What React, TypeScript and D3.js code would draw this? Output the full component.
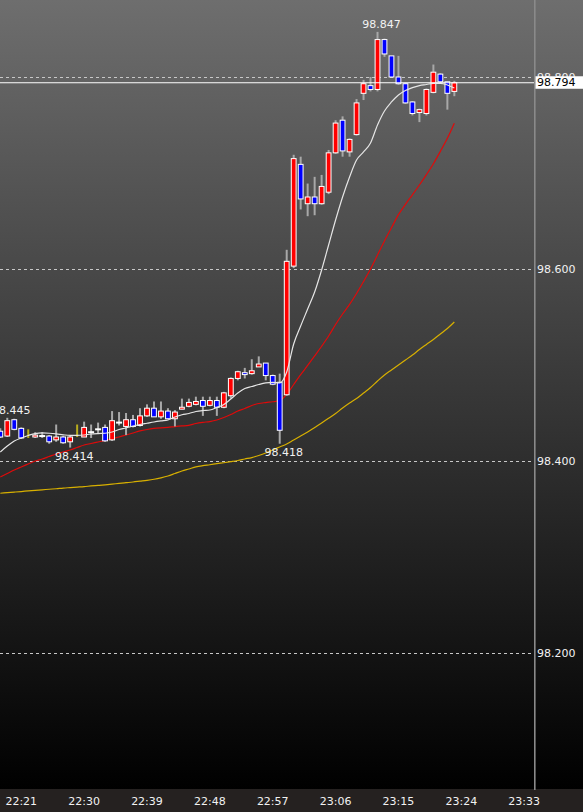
import React from "react";
import * as d3 from "d3";

const W = 583;
const H = 812;

const times = [
  "22:18","22:19","22:20","22:21","22:22","22:23","22:24","22:25","22:26","22:27",
  "22:28","22:29","22:30","22:31","22:32","22:33","22:34","22:35","22:36","22:37",
  "22:38","22:39","22:40","22:41","22:42","22:43","22:44","22:45","22:46","22:47",
  "22:48","22:49","22:50","22:51","22:52","22:53","22:54","22:55","22:56","22:57",
  "22:58","22:59","23:00","23:01","23:02","23:03","23:04","23:05","23:06","23:07",
  "23:08","23:09","23:10","23:11","23:12","23:13","23:14","23:15","23:16","23:17",
  "23:18","23:19","23:20","23:21","23:22","23:23",
];

const opens = [
  98.431, 98.426, 98.443, 98.434, 98.424, 98.425, 98.426, 98.426, 98.422, 98.425,
  98.420, 98.425, 98.425, 98.430, 98.433, 98.435, 98.422, 98.440, 98.436, 98.443,
  98.437, 98.447, 98.455, 98.446, 98.452, 98.444, 98.454, 98.457, 98.459, 98.463,
  98.458, 98.463, 98.456, 98.468, 98.486, 98.492, 98.491, 98.498, 98.502, 98.489,
  98.482, 98.469, 98.603, 98.709, 98.668, 98.675, 98.668, 98.680, 98.721, 98.755,
  98.722, 98.740, 98.783, 98.791, 98.787, 98.839, 98.822, 98.800, 98.793, 98.774,
  98.763, 98.762, 98.784, 98.803, 98.795, 98.785,
];
const highs = [
  98.434, 98.445, 98.444, 98.435, 98.433, 98.430, 98.430, 98.427, 98.438, 98.426,
  98.426, 98.438, 98.441, 98.438, 98.440, 98.438, 98.452, 98.451, 98.450, 98.448,
  98.455, 98.459, 98.462, 98.462, 98.455, 98.453, 98.465, 98.465, 98.467, 98.467,
  98.467, 98.467, 98.472, 98.487, 98.494, 98.497, 98.506, 98.509, 98.502, 98.490,
  98.491, 98.620, 98.719, 98.717, 98.689, 98.696, 98.698, 98.724, 98.755, 98.759,
  98.736, 98.777, 98.797, 98.800, 98.847, 98.840, 98.822, 98.822, 98.794, 98.775,
  98.767, 98.788, 98.813, 98.804, 98.795, 98.796,
];
const lows = [
  98.424, 98.425, 98.432, 98.423, 98.424, 98.424, 98.424, 98.418, 98.420, 98.418,
  98.414, 98.425, 98.425, 98.424, 98.429, 98.420, 98.421, 98.437, 98.427, 98.435,
  98.436, 98.446, 98.446, 98.444, 98.444, 98.436, 98.454, 98.456, 98.458, 98.447,
  98.457, 98.447, 98.455, 98.465, 98.484, 98.486, 98.490, 98.498, 98.484, 98.479,
  98.418, 98.468, 98.601, 98.662, 98.655, 98.656, 98.667, 98.678, 98.720, 98.717,
  98.717, 98.739, 98.776, 98.785, 98.785, 98.821, 98.800, 98.792, 98.772, 98.760,
  98.753, 98.760, 98.783, 98.793, 98.766, 98.780,
];
const closes = [
  98.425, 98.442, 98.433, 98.424, 98.424, 98.427, 98.426, 98.420, 98.425, 98.419,
  98.425, 98.425, 98.435, 98.430, 98.433, 98.421, 98.442, 98.440, 98.443, 98.436,
  98.447, 98.455, 98.446, 98.452, 98.444, 98.451, 98.456, 98.461, 98.462, 98.457,
  98.463, 98.456, 98.471, 98.486, 98.493, 98.490, 98.494, 98.501, 98.489, 98.480,
  98.432, 98.608, 98.715, 98.673, 98.675, 98.668, 98.686, 98.721, 98.752, 98.723,
  98.735, 98.773, 98.793, 98.787, 98.839, 98.824, 98.800, 98.793, 98.773, 98.762,
  98.766, 98.787, 98.805, 98.795, 98.783, 98.794,
];

// moving averages (white / red / yellow)
const maFast = [
  98.4094, 98.4156, 98.4208, 98.4240, 98.4266, 98.4286, 98.4292, 98.4289, 98.4283, 98.4273,
  98.4266, 98.4266, 98.4271, 98.4281, 98.4286, 98.4289, 98.4302, 98.4328, 98.4344, 98.4365,
  98.4380, 98.4393, 98.4406, 98.4417, 98.4427, 98.4458, 98.4482, 98.4495, 98.4516, 98.4526,
  98.4531, 98.4557, 98.4589, 98.4646, 98.4708, 98.4755, 98.4776, 98.4797, 98.4813, 98.4818,
  98.4813, 98.4927, 98.5219, 98.5406, 98.5583, 98.5760, 98.5990, 98.6250, 98.6510, 98.6750,
  98.6958, 98.7135, 98.7219, 98.7313, 98.7500, 98.7646, 98.7740, 98.7813, 98.7859, 98.7890,
  98.7911, 98.7922, 98.7934, 98.7934, 98.7917, 98.7885,
];
const maMid = [
  98.3833, 98.3870, 98.3906, 98.3938, 98.3969, 98.4000, 98.4021, 98.4047, 98.4073, 98.4094,
  98.4115, 98.4141, 98.4167, 98.4182, 98.4198, 98.4214, 98.4234, 98.4250, 98.4271, 98.4292,
  98.4313, 98.4328, 98.4339, 98.4346, 98.4351, 98.4359, 98.4365, 98.4372, 98.4391, 98.4403,
  98.4411, 98.4427, 98.4453, 98.4484, 98.4521, 98.4547, 98.4578, 98.4599, 98.4609, 98.4617,
  98.4630, 98.4693, 98.4797, 98.4900, 98.4995, 98.5094, 98.5195, 98.5302, 98.5422, 98.5531,
  98.5631, 98.5745, 98.5869, 98.6000, 98.6146, 98.6292, 98.6430, 98.6566, 98.6674, 98.6773,
  98.6875, 98.6983, 98.7097, 98.7225, 98.7361, 98.7519,
];
const maSlow = [
  98.3664, 98.3670, 98.3676, 98.3682, 98.3689, 98.3695, 98.3700, 98.3706, 98.3711, 98.3718,
  98.3723, 98.3728, 98.3733, 98.3740, 98.3746, 98.3752, 98.3759, 98.3767, 98.3774, 98.3781,
  98.3790, 98.3799, 98.3810, 98.3825, 98.3844, 98.3870, 98.3896, 98.3917, 98.3938, 98.3951,
  98.3961, 98.3972, 98.3982, 98.3993, 98.4005, 98.4021, 98.4036, 98.4057, 98.4083, 98.4115,
  98.4146, 98.4177, 98.4219, 98.4260, 98.4302, 98.4349, 98.4396, 98.4445, 98.4495, 98.4552,
  98.4604, 98.4651, 98.4708, 98.4766, 98.4833, 98.4896, 98.4948, 98.5000, 98.5052, 98.5104,
  98.5161, 98.5214, 98.5266, 98.5323, 98.5380, 98.5448,
];

const timeTicks = ["22:21", "22:30", "22:39", "22:48", "22:57", "23:06", "23:15", "23:24", "23:33"];
const priceTicks = [98.2, 98.4, 98.6, 98.8];
const lastPrice = 98.794;
const highLabelIdx = [1, 54];
const lowLabelIdx = [10, 40];

const parse = d3.timeParse("%H:%M");
const FONT = "'DejaVu Sans', Verdana, sans-serif";

export default function App() {
  const plotRight = 534.5;
  const x = d3
    .scaleTime()
    .domain([parse("22:18") as Date, parse("23:33") as Date])
    .range([0.3, 524.2]);
  const y = d3.scaleLinear().domain([98.2, 98.8]).range([653, 77]);

  const mkLine = (vals: number[]) =>
    d3
      .line<number>()
      .x((_, i) => x(parse(times[i]) as Date))
      .y((v) => y(v))
      .curve(d3.curveMonotoneX)(vals) as string;

  const fmt = d3.format(".3f");

  return (
    <div style={{ width: W, height: H, position: "fixed", left: 0, top: 0, overflow: "hidden" }}>
      <style>{"body{margin:0;background:#000}"}</style>
      <svg width={W} height={H} style={{ display: "block" }} fontFamily={FONT}>
        <defs>
          <linearGradient id="bg" x1="0" y1="0" x2="0" y2="790" gradientUnits="userSpaceOnUse">
            <stop offset="0" stopColor="#6e6e6e" />
            <stop offset="1" stopColor="#000000" />
          </linearGradient>
          <clipPath id="plot">
            <rect x={0} y={0} width={plotRight} height={790} />
          </clipPath>
        </defs>
        <rect x={0} y={0} width={W} height={790} fill="url(#bg)" />
        <rect x={0} y={789} width={W} height={H - 789} fill="#252120" />

        {/* grid */}
        {priceTicks.map((p) => (
          <line
            key={p}
            x1={0}
            x2={plotRight}
            y1={Math.round(y(p)) + 0.5}
            y2={Math.round(y(p)) + 0.5}
            stroke="#c8c8c8"
            strokeWidth={1}
            strokeDasharray="3,3"
          />
        ))}

        <g clipPath="url(#plot)">
          {/* moving averages */}
          <path d={mkLine(maSlow)} fill="none" stroke="#d8b000" strokeWidth={1.2} />
          <path d={mkLine(maMid)} fill="none" stroke="#e00a0a" strokeWidth={1.2} />

          {/* candles */}
          {times.map((t, i) => {
            const cx = x(parse(t) as Date);
            const o = opens[i];
            const c = closes[i];
            const h = highs[i];
            const l = lows[i];
            if (o === c && c === l) {
              return (
                <rect
                  key={t}
                  x={cx - 1}
                  y={y(h)}
                  width={2}
                  height={y(l) - y(h)}
                  fill="#b8ac1e"
                />
              );
            }
            const wick = (
              <line
                x1={cx}
                x2={cx}
                y1={y(h)}
                y2={y(l)}
                stroke="#a8a8a8"
                strokeWidth={2}
              />
            );
            if (o === c) {
              return (
                <g key={t}>
                  {wick}
                  <rect x={cx - 3} y={y(c) - 1} width={6} height={2} fill="#ffffff" />
                </g>
              );
            }
            const up = c > o;
            const top = y(Math.max(o, c));
            const hgt = Math.max(1, Math.abs(y(o) - y(c)));
            return (
              <g key={t}>
                {wick}
                <rect
                  x={cx - 2.4}
                  y={top}
                  width={4.8}
                  height={hgt}
                  fill={up ? "#ff0000" : "#0000ff"}
                  stroke="#ffffff"
                  strokeWidth={1}
                />
              </g>
            );
          })}

          <path d={mkLine(maFast)} fill="none" stroke="#e6e6e6" strokeWidth={1.2} />

          {/* current price line */}
          <line
            x1={0}
            x2={plotRight}
            y1={y(lastPrice)}
            y2={y(lastPrice)}
            stroke="#ffffff"
            strokeWidth={1.2}
          />
        </g>

        {/* high / low annotations */}
        {highLabelIdx.map((i) => (
          <text
            key={"h" + i}
            x={x(parse(times[i]) as Date) + 4}
            y={y(highs[i]) - 3.5}
            textAnchor="middle"
            fontSize={11}
            fill="#f2f2f2"
          >
            {fmt(highs[i])}
          </text>
        ))}
        {lowLabelIdx.map((i) => (
          <text
            key={"l" + i}
            x={x(parse(times[i]) as Date) + 4}
            y={y(lows[i]) + 12.5}
            textAnchor="middle"
            fontSize={11}
            fill="#f2f2f2"
          >
            {fmt(lows[i])}
          </text>
        ))}

        {/* right axis */}
        <rect x={plotRight - 0.5} y={0} width={1.6} height={790} fill="#8a8a8a" />
        {priceTicks.map((p) => (
          <text key={"t" + p} x={537} y={y(p) + 4} fontSize={11} fill="#f2f2f2">
            {fmt(p)}
          </text>
        ))}
        <rect x={535.5} y={y(lastPrice) - 6.5} width={48} height={12.5} fill="#ffffff" />
        <text x={537} y={y(lastPrice) + 3.5} fontSize={11} fill="#000000">
          {fmt(lastPrice)}
        </text>

        {/* time axis */}
        {timeTicks.map((t) => (
          <text
            key={t}
            x={x(parse(t) as Date)}
            y={804.5}
            textAnchor="middle"
            fontSize={11}
            fill="#f2f2f2"
          >
            {t}
          </text>
        ))}
      </svg>
    </div>
  );
}
